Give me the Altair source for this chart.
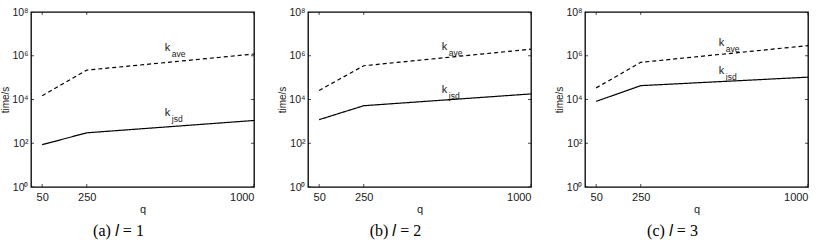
import altair as alt
import pandas as pd

q = [50, 250, 1000]
kave_a = [1.5e4, 2.2e5, 1.2e6]
kjsd_a = [86, 300, 1100]
kave_b = [2.6e4, 3.5e5, 2.0e6]
kjsd_b = [1200, 5200, 1.8e4]
kave_c = [3.4e4, 5.0e5, 2.9e6]
kjsd_c = [8200, 4.3e4, 1.05e5]
captions = ["(a) 𝑙 = 1", "(b) 𝑙 = 2", "(c) 𝑙 = 3"]
label_q = [600, 600, 600]
label_ave_t = [2.3e6, 2.4e6, 4.0e6]
label_jsd_t = [2.5e3, 2.8e4, 2.0e5]
y_ticks = [1, 1e2, 1e4, 1e6, 1e8]
x_ticks = [50, 250, 1000]

FONT = "Liberation Sans"
SERIF = "Liberation Serif"
INK = "#1a1a1a"
W, H = 223, 175


def panel(kave, kjsd, cap, lq, lat, ljt):
    df = pd.DataFrame({
        "q": q * 2,
        "t": kave + kjsd,
        "s": ["ave"] * 3 + ["jsd"] * 3,
    })
    xs = alt.Scale(domain=[0, 1000], nice=False, zero=False)
    ys = alt.Scale(type="log", domain=[1, 1e8], nice=False)
    xa = alt.Axis(values=x_ticks, format="d", ticks=False, tickSize=0, grid=False, domain=False,
                  labelFont=FONT, labelFontSize=11, labelColor=INK,
                  labelPadding=4, title="q", titleFont=FONT, titleFontSize=11,
                  titleFontWeight="normal", titleColor=INK, titlePadding=1)
    ya = alt.Axis(values=y_ticks, ticks=False, tickSize=0, grid=False, domain=False,
                  labelFont=FONT, labelFontSize=10.5, labelColor=INK, labelPadding=3,
                  labelExpr="'10' + ['⁰','¹','²','³','⁴','⁵','⁶','⁷','⁸'][round(log(datum.value)/LN10)]",
                  title="time/s", titleFont=FONT, titleFontSize=10, titleFontWeight="normal",
                  titleColor=INK, titlePadding=1)
    lines = alt.Chart(df).mark_line(color="black", strokeWidth=1.2).encode(
        x=alt.X("q:Q", scale=xs, axis=xa),
        y=alt.Y("t:Q", scale=ys, axis=ya),
        strokeDash=alt.StrokeDash("s:N", scale=alt.Scale(domain=["ave", "jsd"], range=[[4, 3], [1, 0]]), legend=None),
        detail="s:N",
    )
    xt = pd.DataFrame({"v": x_ticks})
    yt = pd.DataFrame({"v": y_ticks})
    tick_top = alt.Chart(xt).mark_tick(clip=True, size=6, thickness=1, color="black").encode(
        x=alt.X("v:Q", scale=xs), y=alt.value(0))
    tick_bot = alt.Chart(xt).mark_tick(clip=True, size=6, thickness=1, color="black").encode(
        x=alt.X("v:Q", scale=xs), y=alt.value(H))
    tick_left = alt.Chart(yt).mark_tick(clip=True, size=6, thickness=1, color="black").encode(
        y=alt.Y("v:Q", scale=ys), x=alt.value(0))
    tick_right = alt.Chart(yt).mark_tick(clip=True, size=6, thickness=1, color="black").encode(
        y=alt.Y("v:Q", scale=ys), x=alt.value(W))
    ldf = pd.DataFrame({"q": [lq, lq], "t": [lat, ljt], "sub": ["ave", "jsd"]})
    k = alt.Chart(ldf).mark_text(text="k", align="left", baseline="middle", font=FONT,
                                 fontSize=11, color=INK).encode(
        x=alt.X("q:Q", scale=xs), y=alt.Y("t:Q", scale=ys))
    sub = alt.Chart(ldf).mark_text(align="left", baseline="middle", font=FONT,
                                   fontSize=8.5, color=INK, dx=7, dy=6).encode(
        x=alt.X("q:Q", scale=xs), y=alt.Y("t:Q", scale=ys), text="sub:N")
    return (lines + tick_top + tick_bot + tick_left + tick_right + k + sub).properties(
        width=W, height=H,
        view=alt.ViewBackground(stroke="black", strokeWidth=1.3, fill="white"),
        title=alt.TitleParams(cap, orient="bottom", font=SERIF, fontSize=16,
                              fontWeight="normal", color="black", offset=9, dx=-24),
    )


chart = alt.hconcat(
    panel(kave_a, kjsd_a, captions[0], label_q[0], label_ave_t[0], label_jsd_t[0]),
    panel(kave_b, kjsd_b, captions[1], label_q[1], label_ave_t[1], label_jsd_t[1]),
    panel(kave_c, kjsd_c, captions[2], label_q[2], label_ave_t[2], label_jsd_t[2]),
    spacing=54, bounds="flush",
).configure_view(stroke="black", strokeWidth=1.3).properties(
    padding={"left": 0, "top": 6, "right": 2, "bottom": 2}
)

chart.save("out.html", embed_options={"renderer": "svg", "actions": False})
